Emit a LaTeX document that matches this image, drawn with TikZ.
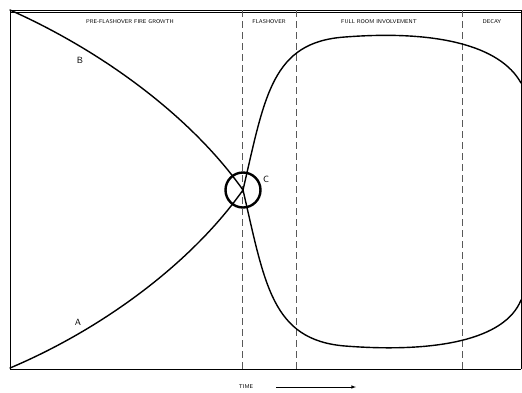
\documentclass[tikz,border=0pt]{standalone}
\begin{document}
\begin{tikzpicture}[x=1pt,y=-1pt]
\useasboundingbox (0,0) rectangle (522,392);
\tikzset{phase/.style={dashed, dash pattern=on 7pt off 4pt, gray!70!black, line width=0.7pt},
  head/.style={font=\fontsize{5.5}{6.5}\selectfont\sffamily, inner sep=1pt},
  curve/.style={line width=1.4pt, line cap=round}}
\coordinate (tl) at (10,10);
\coordinate (bl) at (10,368);
\coordinate (tr) at (521,83);
\coordinate (br) at (521,300);
\node[draw, circle, line width=2.4pt, minimum size=35pt, inner sep=0pt] (C) at (243,190) {};
\node[font=\small\sffamily] (lc) at (266,179) {C};
\node[font=\small\sffamily] (lb) at (80,60) {B};
\node[font=\small\sffamily] (la) at (78,322) {A};
\node[head] (pre) at (130,22) {PRE-FLASHOVER FIRE GROWTH};
\node[head] (flash) at (269,22) {FLASHOVER};
\node[head] (full) at (379,22) {FULL ROOM INVOLVEMENT};
\node[head] (dec) at (492,22) {DECAY};
\node[head] (time) at (246,387) {TIME};
\coordinate (ts) at (276,387);
\coordinate (te) at (356,387);

\draw[line width=1pt] (10,369) -- (10,10) -- (521,10);
\draw[line width=0.4pt] (10,12) -- (521,12);
\draw[line width=1pt] (10,369) -- (521,369);
\draw[line width=0.5pt] (521,10) -- (521,369);
\draw[phase] (242,10) -- (242,369);
\draw[phase] (296,10) -- (296,369);
\draw[phase] (462,10) -- (462,369);

\draw[curve] (tl) .. controls (100,50) and (190,115) .. (C.center);
\draw[curve] (bl) .. controls (100,330) and (190,265) .. (C.center);
\draw[curve] (C.center) .. controls (265,95) and (272,42) .. (345,37) .. controls (435,30) and (500,45) .. (tr);
\draw[curve] (C.center) .. controls (265,285) and (272,340) .. (345,346) .. controls (435,353) and (505,340) .. (br);
\draw[-latex, line width=0.6pt] (ts) -- (te);
\end{tikzpicture}
\end{document}
